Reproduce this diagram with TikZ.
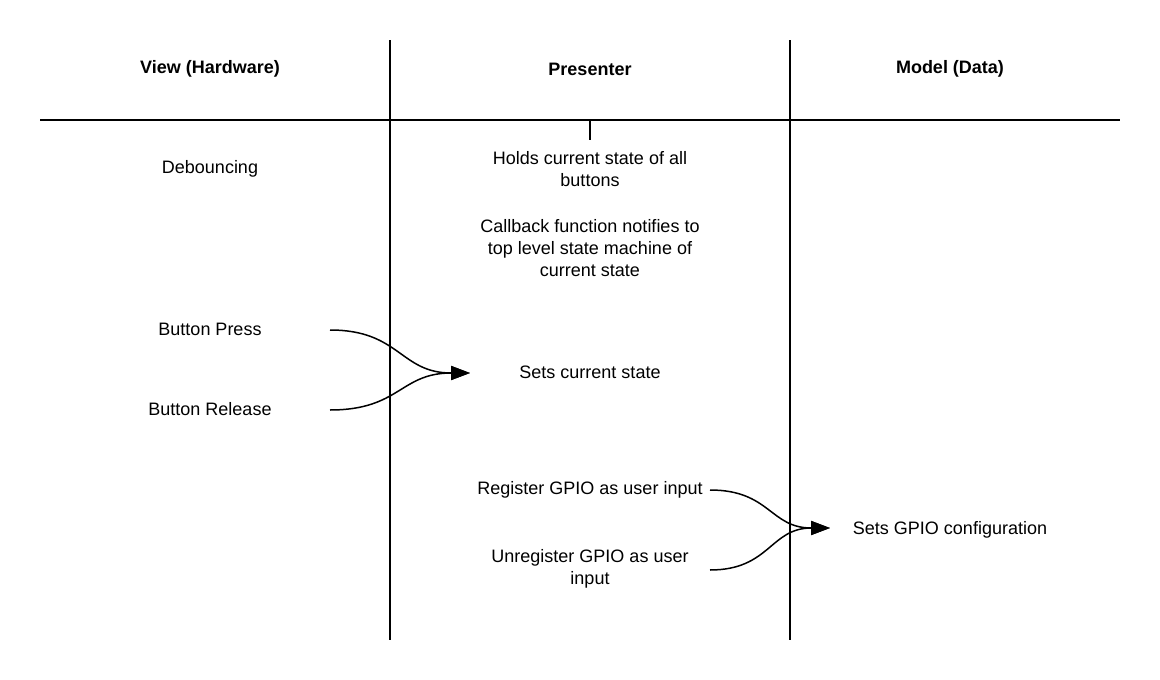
\documentclass[tikz,border=0pt]{standalone}
\usepackage{fontspec}
\setmainfont{Liberation Sans}
\usetikzlibrary{arrows.meta}
\begin{document}
\begin{tikzpicture}[x=1pt,y=-1pt,
  lbl/.style={align=center,font=\fontsize{18}{22}\selectfont,inner sep=0pt},
  hdr/.style={lbl,font=\fontsize{18}{22}\selectfont\bfseries},
  rule/.style={line width=1.5pt},
  conn/.style={line width=1.5pt,-{Triangle[length=19pt,width=14pt]}}]
\useasboundingbox (0,0) rectangle (1160,680);
\coordinate (v1t) at (390,40); \coordinate (v1b) at (390,640);
\coordinate (v2t) at (790,40); \coordinate (v2b) at (790,640);
\coordinate (hl) at (40,120); \coordinate (hr) at (1120,120);
\coordinate (tt) at (590,120); \coordinate (tb) at (590,140);
\draw[rule] (v1t) -- (v1b);
\draw[rule] (v2t) -- (v2b);
\draw[rule] (hl) -- (hr);
\draw[rule] (tt) -- (tb);
\node[hdr] (h1) at (210,69) {View (Hardware)};
\node[hdr] (h2) at (590,69) {Presenter};
\node[hdr] (h3) at (950,69) {Model (Data)};
\node[lbl] (deb) at (210,168.5) {Debouncing};
\node[lbl] (holds) at (590,169) {Holds current state of all\\buttons};
\node[lbl] (cb) at (590,248.5) {Callback function notifies to\\top level state machine of\\current state};
\node[lbl] (bp) at (210,329.5) {Button Press};
\node[lbl] (br) at (210,409.5) {Button Release};
\node[lbl] (scs) at (590,372.5) {Sets current state};
\node[lbl] (reg) at (590,489.5) {Register GPIO as user input};
\node[lbl] (unreg) at (590,568.5) {Unregister GPIO as user\\input};
\node[lbl] (gpio) at (950,529.5) {Sets GPIO configuration};
\coordinate (bps) at (330,330);
\coordinate (brs) at (330,410);
\coordinate (sct) at (470,373);
\coordinate (rgs) at (710,490);
\coordinate (urs) at (710,570);
\coordinate (gpt) at (830,528);
\draw[conn] (bps) .. controls (400,330) and (400,373) .. (sct);
\draw[conn] (brs) .. controls (400,410) and (400,373) .. (sct);
\draw[conn] (rgs) .. controls (770,490) and (770,528) .. (gpt);
\draw[conn] (urs) .. controls (770,570) and (770,528) .. (gpt);
\end{tikzpicture}
\end{document}
